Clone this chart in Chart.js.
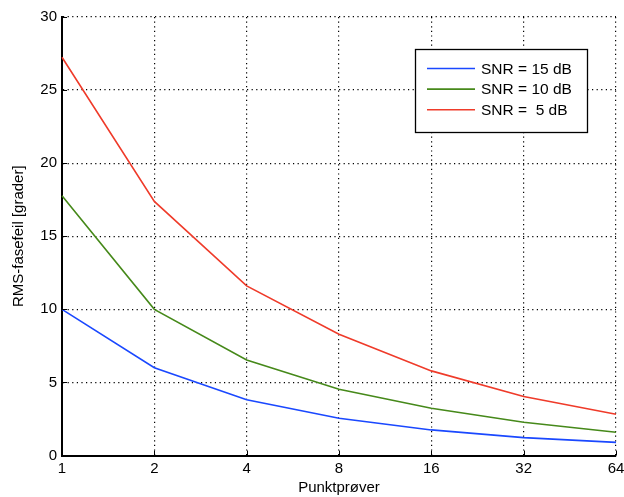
<!DOCTYPE html>
<html>
<head>
<meta charset="utf-8">
<script src="https://cdn.jsdelivr.net/npm/chart.js@4"></script>
<style>
  html, body { margin: 0; padding: 0; background: #fff; }
  #wrap { width: 624px; height: 497px; }
</style>
</head>
<body>
<div id="wrap"><canvas id="c" width="624" height="497"></canvas></div>
<script>
// Number of samples (log2 spaced) and RMS phase error in degrees
const samples = ['1', '2', '4', '8', '16', '32', '64'];
const snr15 = [10.0, 6.0, 3.82, 2.55, 1.75, 1.22, 0.9];
const snr10 = [17.77, 10.0, 6.54, 4.53, 3.23, 2.27, 1.59];
const snr5  = [27.25, 17.38, 11.6, 8.3, 5.79, 4.03, 2.82];
const seriesNames = ['SNR = 15 dB', 'SNR = 10 dB', 'SNR =  5 dB'];
const yTicks = [0, 5, 10, 15, 20, 25, 30];

const FONT = '"Liberation Sans", Arial, Helvetica, sans-serif';
const colors = ['#1a48ff', '#46891a', '#ef3b2a'];

// Inward tick marks on the left and bottom axes
const innerTicks = {
  id: 'innerTicks',
  afterDatasetsDraw(chart) {
    const { ctx, chartArea: a, scales } = chart;
    ctx.save();
    ctx.strokeStyle = '#000';
    ctx.lineWidth = 1;
    ctx.beginPath();
    scales.x.ticks.forEach((t, i) => {
      const px = Math.round(scales.x.getPixelForTick(i)) + 0.5;
      ctx.moveTo(px, a.bottom);
      ctx.lineTo(px, a.bottom - 5);
    });
    scales.y.ticks.forEach((t, i) => {
      const py = Math.round(scales.y.getPixelForTick(i)) + 0.5;
      ctx.moveTo(a.left, py);
      ctx.lineTo(a.left + 5, py);
    });
    ctx.stroke();
    ctx.restore();
  }
};

// Boxed legend inside the plot area
const boxLegend = {
  id: 'boxLegend',
  afterDraw(chart) {
    const { ctx } = chart;
    const x0 = 415.5, y0 = 49.5, w = 172, h = 83;
    ctx.save();
    ctx.fillStyle = '#fff';
    ctx.fillRect(x0, y0, w, h);
    ctx.strokeStyle = '#000';
    ctx.lineWidth = 1.3;
    ctx.strokeRect(x0, y0, w, h);
    ctx.font = '15.5px ' + FONT;
    ctx.textBaseline = 'middle';
    ctx.textAlign = 'left';
    chart.data.datasets.forEach((ds, i) => {
      const y = 68.5 + i * 20.6;
      ctx.strokeStyle = ds.borderColor;
      ctx.lineWidth = 1.6;
      ctx.beginPath();
      ctx.moveTo(427, y);
      ctx.lineTo(475, y);
      ctx.stroke();
      ctx.fillStyle = '#000';
      ctx.fillText(ds.label, 481, y + 1);
    });
    ctx.restore();
  }
};

const seriesData = [snr15, snr10, snr5];

new Chart(document.getElementById('c'), {
  type: 'line',
  data: {
    labels: samples,
    datasets: seriesData.map((d, i) => ({
      label: seriesNames[i],
      data: d,
      borderColor: colors[i],
      backgroundColor: colors[i],
      borderWidth: 1.6,
      pointRadius: 0,
      tension: 0,
      fill: false
    }))
  },
  options: {
    responsive: false,
    animation: false,
    devicePixelRatio: 1,
    layout: { padding: { left: 0, right: 8, top: 17, bottom: 0 } },
    plugins: {
      legend: { display: false },
      tooltip: { enabled: false }
    },
    scales: {
      x: {
        type: 'category',
        offset: false,
        grid: { color: '#000', lineWidth: 1.2, drawTicks: false },
        border: { display: true, color: '#000', width: 2, dash: [1.2, 3.4] },
        ticks: {
          color: '#000', font: { family: FONT, size: 15 }, padding: 4,
          maxRotation: 0, autoSkip: false
        },
        title: {
          display: true, text: 'Punktprøver', color: '#000',
          font: { family: FONT, size: 15 }, padding: { top: 2, bottom: 0 }
        },
        afterFit(scale) {
          scale.paddingLeft = 0;
          scale.paddingRight = 0;
          scale.height = 41.5;
        }
      },
      y: {
        min: 0, max: 30,
        afterBuildTicks(scale) { scale.ticks = yTicks.map(v => ({ value: v })); },
        grid: { color: '#000', lineWidth: 1.2, drawTicks: false },
        border: { display: true, color: '#000', width: 2, dash: [1.2, 3.4] },
        ticks: {
          color: '#000', font: { family: FONT, size: 15 }, padding: 5
        },
        title: {
          display: true, text: 'RMS-fasefeil [grader]', color: '#000',
          font: { family: FONT, size: 15 }, padding: { top: 10, bottom: 0 }
        },
        afterFit(scale) { scale.width = 62; }
      }
    }
  },
  plugins: [innerTicks, boxLegend]
});
</script>
</body>
</html>
